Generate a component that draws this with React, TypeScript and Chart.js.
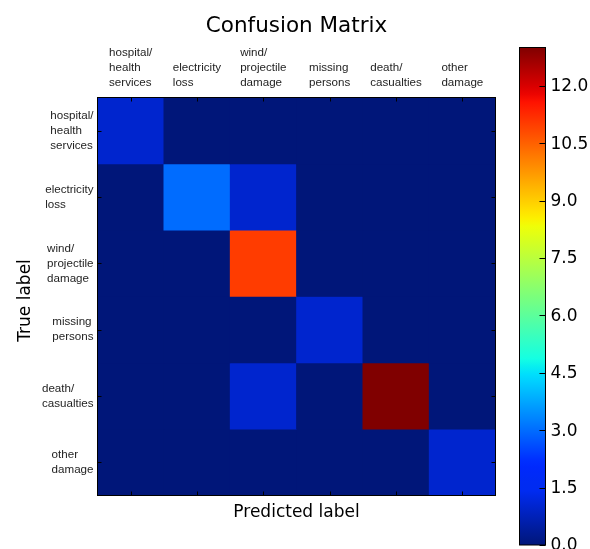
import React, { useEffect, useRef } from "react";
import { Chart, registerables } from "chart.js";

Chart.register(...registerables);

// ---- data ----
const predictedLabels: string[][] = [
  ["hospital/", "health", "services"],
  ["electricity", "loss"],
  ["wind/", "projectile", "damage"],
  ["missing", "persons"],
  ["death/", "casualties"],
  ["other", "damage"],
];
const trueLabels: string[][] = [
  ["hospital/", "health", "services"],
  ["electricity", "loss"],
  ["wind/", "projectile", "damage"],
  ["missing", "persons"],
  ["death/", "casualties"],
  ["other", "damage"],
];
const rowHospital = [1, 0, 0, 0, 0, 0];
const rowElectricity = [0, 3, 1, 0, 0, 0];
const rowWind = [0, 0, 11, 0, 0, 0];
const rowMissing = [0, 0, 0, 1, 0, 0];
const rowDeath = [0, 0, 1, 0, 13, 0];
const rowOther = [0, 0, 0, 0, 0, 1];
const matrix = [rowHospital, rowElectricity, rowWind, rowMissing, rowDeath, rowOther];
const colorMin = 0;
const colorMax = 13;
const colorbarTicks = [0, 1.5, 3, 4.5, 6, 7.5, 9, 10.5, 12];
const titleText = "Confusion Matrix";
const xTitle = "Predicted label";
const yTitle = "True label";

// ---- jet colormap (matplotlib) ----
const JET: Record<string, number[][]> = {
  r: [[0, 0], [0.35, 0], [0.66, 1], [0.89, 1], [1, 0.5]],
  g: [[0, 0], [0.125, 0], [0.375, 1], [0.64, 1], [0.91, 0], [1, 0]],
  b: [[0, 0.5], [0.11, 1], [0.34, 1], [0.65, 0], [1, 0]],
};
function seg(pts: number[][], x: number) {
  for (let i = 1; i < pts.length; i++) {
    if (x <= pts[i][0]) {
      const [x0, y0] = pts[i - 1];
      const [x1, y1] = pts[i];
      return y0 + ((x - x0) / (x1 - x0)) * (y1 - y0);
    }
  }
  return pts[pts.length - 1][1];
}
function jet(t: number) {
  const x = Math.max(0, Math.min(1, t));
  const r = seg(JET.r, x) * 255;
  let g = seg(JET.g, x) * 255;
  let b = seg(JET.b, x) * 255;
  // slight tint of the deep blues, as rendered in the reference image
  if (r === 0 && g < 40) {
    const add = b * 0.17 * (1 - g / 40);
    g = g + add;
    b = b - add * 0.3;
  }
  return `rgb(${Math.round(r)},${Math.round(g)},${Math.round(b)})`;
}
const norm = (v: number) => (v - colorMin) / (colorMax - colorMin);

const SMALL_FONT = '11.6px "Liberation Sans", Arial, sans-serif';
const BIG = '"DejaVu Sans", sans-serif';

const matrixPlugin = {
  id: "matrixDecor",
  beforeDatasetsDraw(chart: any) {
    const { ctx, chartArea: a } = chart;
    ctx.save();
    ctx.fillStyle = jet(0);
    ctx.fillRect(a.left, a.top, a.right - a.left, a.bottom - a.top);
    ctx.restore();
  },
  afterDraw(chart: any) {
    const { ctx, chartArea: a } = chart;
    const xs = chart.scales.x;
    const ys = chart.scales.y;
    ctx.save();
    // frame
    ctx.strokeStyle = "#000";
    ctx.lineWidth = 1;
    ctx.strokeRect(a.left, a.top, a.right - a.left, a.bottom - a.top);
    // inward ticks
    const tl = 4;
    ctx.beginPath();
    predictedLabels.forEach((_, j) => {
      const px = Math.round(xs.getPixelForValue(j)) + 0.5;
      ctx.moveTo(px, a.top);
      ctx.lineTo(px, a.top + tl);
      ctx.moveTo(px, a.bottom);
      ctx.lineTo(px, a.bottom - tl);
    });
    trueLabels.forEach((_, i) => {
      const py = Math.round(ys.getPixelForValue(i + 0.5)) + 0.5;
      ctx.moveTo(a.left, py);
      ctx.lineTo(a.left + tl, py);
      ctx.moveTo(a.right, py);
      ctx.lineTo(a.right - tl, py);
    });
    ctx.stroke();

    // x tick labels (top), block centered, lines left aligned
    ctx.font = SMALL_FONT;
    ctx.fillStyle = "#1e1e1e";
    ctx.textAlign = "left";
    ctx.textBaseline = "middle";
    const lh = 15;
    predictedLabels.forEach((lines, j) => {
      const cx = xs.getPixelForValue(j);
      const w = Math.max(...lines.map((l) => ctx.measureText(l).width));
      const left = cx - w / 2;
      const bottomMid = a.top - 15;
      lines.forEach((l, k) => {
        ctx.fillText(l, left, bottomMid - (lines.length - 1 - k) * lh);
      });
    });
    // y tick labels (left), block right aligned, lines left aligned
    trueLabels.forEach((lines, i) => {
      const cy = ys.getPixelForValue(i + 0.5);
      const w = Math.max(...lines.map((l) => ctx.measureText(l).width));
      const left = a.left - 4 - w;
      const top = cy - ((lines.length - 1) * lh) / 2;
      lines.forEach((l, k) => {
        ctx.fillText(l, left, top + k * lh);
      });
    });

    // title
    const cxa = (a.left + a.right) / 2;
    ctx.fillStyle = "#000";
    ctx.textAlign = "center";
    ctx.textBaseline = "alphabetic";
    ctx.font = `21.5px ${BIG}`;
    ctx.fillText(titleText, cxa, 32);
    // x axis title
    ctx.font = `17px ${BIG}`;
    ctx.fillText(xTitle, cxa, a.bottom + 21);
    // y axis title
    ctx.save();
    ctx.translate(30, (a.top + a.bottom) / 2 + 4);
    ctx.rotate(-Math.PI / 2);
    ctx.fillText(yTitle, 0, 0);
    ctx.restore();
    ctx.restore();
  },
};

const colorbarPlugin = {
  id: "colorbarDecor",
  afterDraw(chart: any) {
    const { ctx, chartArea: a } = chart;
    const ys = chart.scales.y;
    ctx.save();
    ctx.strokeStyle = "#000";
    ctx.lineWidth = 1;
    ctx.strokeRect(a.left, a.top, a.right - a.left, a.bottom - a.top);
    ctx.beginPath();
    colorbarTicks.forEach((t) => {
      const py = Math.round(ys.getPixelForValue(t)) + 0.5;
      ctx.moveTo(a.right, py);
      ctx.lineTo(a.right - 6, py);
    });
    ctx.stroke();
    ctx.fillStyle = "#000";
    ctx.font = `17px ${BIG}`;
    ctx.textAlign = "left";
    ctx.textBaseline = "middle";
    colorbarTicks.forEach((t) => {
      ctx.fillText(t.toFixed(1), a.right + 5, ys.getPixelForValue(t) + 1);
    });
    ctx.restore();
  },
};

export default function App() {
  const mainRef = useRef<HTMLCanvasElement | null>(null);
  const cbRef = useRef<HTMLCanvasElement | null>(null);

  useEffect(() => {
    const main = new Chart(mainRef.current as HTMLCanvasElement, {
      type: "bar",
      data: {
        labels: predictedLabels.map((l) => l.join(" ")),
        datasets: matrix.map((row, i) => ({
          label: trueLabels[i].join(" "),
          data: row.map(() => [i, i + 1]) as any,
          backgroundColor: row.map((v) => jet(norm(v))),
          borderWidth: 0,
          barPercentage: 1,
          categoryPercentage: 1,
          grouped: false,
        })),
      },
      options: {
        responsive: false,
        animation: false,
        layout: { padding: { left: 97.5, top: 97.5, right: 4.5, bottom: 53.5 } },
        plugins: { legend: { display: false }, tooltip: { enabled: false }, title: { display: false } },
        scales: {
          x: { type: "category", offset: true, display: false },
          y: { type: "linear", min: 0, max: matrix.length, reverse: true, display: false },
        },
      },
      plugins: [matrixPlugin],
    } as any);

    const cb = new Chart(cbRef.current as HTMLCanvasElement, {
      type: "bar",
      data: {
        labels: [""],
        datasets: [
          {
            data: [[colorMin, colorMax]] as any,
            backgroundColor: (c: any) => {
              const chart = c.chart;
              const area = chart.chartArea;
              const ys = chart.scales.y;
              if (!area || !ys) return jet(0);
              const g = chart.ctx.createLinearGradient(0, ys.getPixelForValue(colorMin), 0, ys.getPixelForValue(colorMax));
              const n = 64;
              for (let k = 0; k <= n; k++) g.addColorStop(k / n, jet(k / n));
              return g;
            },
            borderWidth: 0,
            barPercentage: 1,
            categoryPercentage: 1,
          },
        ],
      },
      options: {
        responsive: false,
        animation: false,
        layout: { padding: { left: 19.5, top: 47.5, right: 44.5, bottom: 4 } },
        plugins: { legend: { display: false }, tooltip: { enabled: false } },
        scales: {
          x: { type: "category", offset: true, display: false },
          y: { type: "linear", min: colorMin, max: colorMax, display: false },
        },
      },
      plugins: [colorbarPlugin],
    } as any);

    return () => {
      main.destroy();
      cb.destroy();
    };
  }, []);

  return (
    <div style={{ position: "fixed", left: 0, top: 0, width: 590, height: 549, background: "#fff" }}>
      <canvas ref={mainRef} width={500} height={549} style={{ position: "absolute", left: 0, top: 0, width: 500, height: 549 }} />
      <canvas ref={cbRef} width={90} height={549} style={{ position: "absolute", left: 500, top: 0, width: 90, height: 549 }} />
    </div>
  );
}
